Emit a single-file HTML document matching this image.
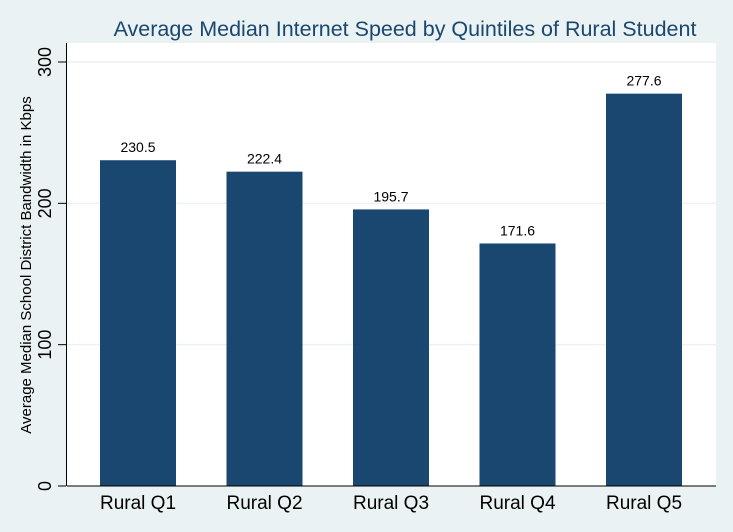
<!DOCTYPE html>
<html><head><meta charset="utf-8"><style>
body{margin:0;background:#eaf2f3;}
svg{display:block;font-family:"Liberation Sans",sans-serif;}
</style></head><body>
<svg id="c" width="733" height="532">
<rect x="0" y="0" width="733" height="532" fill="#eaf2f3"/>
<rect x="67" y="43" width="649" height="443" fill="#ffffff"/>
<text x="405" y="36" text-anchor="middle" font-size="21.5" fill="#1a476f">Average Median Internet Speed by Quintiles of Rural Student</text>
<text transform="translate(31,265) rotate(-90)" text-anchor="middle" font-size="15" fill="#000">Average Median School District Bandwidth in Kbps</text>
<g id="g"></g>
</svg>
<script>
const categories=["Rural Q1","Rural Q2","Rural Q3","Rural Q4","Rural Q5"];
const values=[230.5,222.4,195.7,171.6,277.6];
const labels=["230.5","222.4","195.7","171.6","277.6"];
const ticks=[0,100,200,300];
const g=document.getElementById('g');
const NS="http://www.w3.org/2000/svg";
const y=v=>486-v*(486-62)/300;
const xc=i=>138+i*126.5;
function mk(t,a){const e=document.createElementNS(NS,t);for(const k in a)e.setAttribute(k,a[k]);g.appendChild(e);return e;}
ticks.forEach(t=>{
  if(t>0){const gl=mk('line',{x1:67,x2:716,y1:y(t),y2:y(t),stroke:'#eaf2f3','stroke-width':1.5});
  
  }
  const tk=mk('line',{x1:58,x2:66,y1:y(t),y2:y(t),stroke:'#000','stroke-width':1});
  
  
  const tl=mk('text',{transform:`translate(51,${y(t)}) rotate(-90)`,'text-anchor':'middle','font-size':18,fill:'#000'});
  tl.textContent=t;
  
  
});
categories.forEach((c,i)=>{
  const b=mk('rect',{x:xc(i)-38,y:y(values[i]),width:76,height:486-y(values[i]),fill:'#1a476f'});
  
  
  const l=mk('text',{x:xc(i),y:y(values[i])-8,'text-anchor':'middle','font-size':14,fill:'#000'});
  l.textContent=labels[i];
  
  
  const xl=mk('text',{x:xc(i),y:509,'text-anchor':'middle','font-size':19,fill:'#000'});
  xl.textContent=c;
  
  
});
const ax=mk('line',{x1:66.5,x2:66.5,y1:43,y2:486,stroke:'#000','stroke-width':1});


const bx=mk('line',{x1:67,x2:716,y1:486,y2:486,stroke:'#000','stroke-width':1});


</script>
</body></html>
